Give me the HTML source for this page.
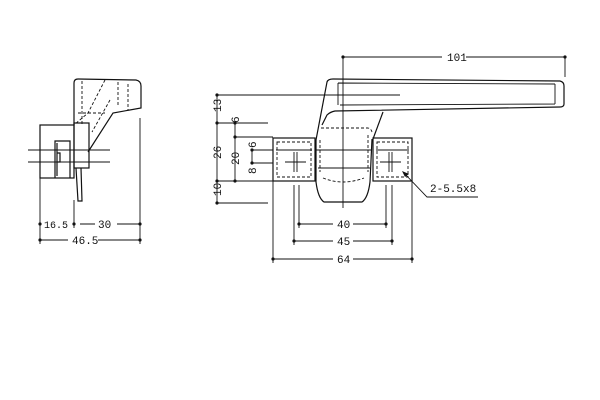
<!DOCTYPE html>
<html><head><style>body{margin:0;background:#fff}svg{display:block}text{font-family:"Liberation Mono",monospace;font-size:11px;fill:#111}</style></head><body>
<svg width="600" height="400" viewBox="0 0 600 400" xmlns="http://www.w3.org/2000/svg" fill="none" stroke="#111" stroke-width="1.2">
<!-- Left side view -->
<path d="M74,125 L74,83 Q74,79 78,79 L136,80 Q141,81 141,86 L141,108 L113,113 L88,152"/>
<path d="M105,80 L88,113 L74,125 M110,100 L92,132" stroke-dasharray="3,2" stroke-width="0.9"/>
<path d="M82,81 L82,125 M118,82 L118,105 M128,84 L128,110 M78,113 L105,113" stroke-dasharray="3,2" stroke-width="0.9"/>
<rect x="74" y="123" width="15" height="45"/>
<path d="M76,168 L78,201 L82,201 L81,168"/>
<rect x="40" y="125" width="34" height="53"/>
<path d="M55,178 L55,141 L70,141 L70,178 M57,143 L57,176 M57,153 L60,153 L60,162 L57,162"/>
<path d="M28,150 L110,150 M28,162 L110,162" stroke-width="1"/>
<path d="M40,178 L40,244 M74,200 L74,228 M140,118 L140,244" stroke-width="0.9"/>
<path d="M80,224 L95,224 M117,224 L140,224 M40,240 L68,240 M98,240 L140,240" stroke-width="0.9"/>
<g fill="#111" stroke="none"><circle cx="40" cy="224" r="1.6"/><circle cx="74" cy="224" r="1.6"/><circle cx="140" cy="224" r="1.6"/><circle cx="40" cy="240" r="1.6"/><circle cx="140" cy="240" r="1.6"/></g>
<text x="44" y="228" stroke="none" style="font-size:10px">16.5</text><text x="98" y="228" stroke="none">30</text><text x="72" y="244" stroke="none">46.5</text>

<!-- Main view: lever -->
<path d="M343,75 L343,208 M343,57 L343,75 M565,57 L565,77" stroke-width="0.9"/>
<path d="M343,57 L442,57 M466,57 L565,57" stroke-width="0.9"/>
<g fill="#111" stroke="none"><circle cx="343" cy="57" r="1.6"/><circle cx="565" cy="57" r="1.6"/></g>
<text x="447" y="61" stroke="none">101</text>
<path d="M316,140 L327,82 Q328,79 333,79 L560,81 Q564,82 564,86 L564,104 Q564,107 560,107 L335,111 Q330,112 327,115 L322,125"/>
<path d="M338,83 L555,84 M340,105 L555,104 M555,84 L555,104 M338,83 L338,105" stroke-width="0.9"/>
<path d="M383,112 L373,139"/>
<path d="M217,95 L400,95" stroke-width="0.9"/>
<!-- base plates -->
<rect x="273" y="138" width="42" height="43"/>
<rect x="373" y="138" width="39" height="43"/>
<path d="M277,142 L311,142 L311,177 L277,177 Z M377,142 L408,142 L408,177 L377,177 Z" stroke-dasharray="3,2" stroke-width="0.9"/>
<path d="M276,150 L312,150 M376,150 L409,150" stroke-width="0.9"/>
<!-- central body -->
<path d="M316,140 L316,182 Q318,198 324,202 L362,202 Q368,198 370,182 L372,139"/>
<path d="M321,128 L368,128 Q372,129 372,133 M320,140 L320,172 M368,135 L368,172 M323,178 Q343,186 364,178" stroke-dasharray="3,2" stroke-width="0.9"/>
<path d="M316,150 L372,150 M318,168 L370,168" stroke-width="0.9"/>
<!-- holes -->
<path d="M285,162 L306,162 M294,152 L294,172 M297,152 L297,172 M380,162 L401,162 M389,152 L389,172 M392,152 L392,172" stroke-width="0.9"/>
<!-- left dims -->
<path d="M217,95 L217,203 M235,123 L235,181 M252,150 L252,163" stroke-width="0.9"/>
<path d="M217,123 L268,123 M235,137 L273,137 M252,150 L273,150 M252,163 L273,163 M217,181 L273,181 M217,203 L268,203" stroke-width="0.9"/>
<g fill="#111" stroke="none"><circle cx="217" cy="95" r="1.6"/><circle cx="217" cy="123" r="1.6"/><circle cx="217" cy="181" r="1.6"/><circle cx="217" cy="203" r="1.6"/><circle cx="235" cy="123" r="1.6"/><circle cx="235" cy="137" r="1.6"/><circle cx="235" cy="181" r="1.6"/><circle cx="252" cy="150" r="1.6"/><circle cx="252" cy="163" r="1.6"/></g>
<g stroke="none">
<text transform="translate(221,112) rotate(-90)">13</text>
<text transform="translate(221,159) rotate(-90)">26</text>
<text transform="translate(221,196) rotate(-90)">10</text>
<text transform="translate(239,123) rotate(-90)">6</text>
<text transform="translate(239,165) rotate(-90)">20</text>
<text transform="translate(256,148) rotate(-90)">6</text>
<text transform="translate(256,174) rotate(-90)">8</text>
</g>
<!-- bottom dims -->
<path d="M273,181 L273,263 M412,181 L412,263 M294,185 L294,245 M392,185 L392,245 M299,185 L299,228 M386,185 L386,228" stroke-width="0.9"/>
<path d="M299,224 L333,224 M353,224 L386,224 M294,241 L333,241 M353,241 L392,241 M273,259 L333,259 M353,259 L412,259" stroke-width="0.9"/>
<g fill="#111" stroke="none"><circle cx="299" cy="224" r="1.6"/><circle cx="386" cy="224" r="1.6"/><circle cx="294" cy="241" r="1.6"/><circle cx="392" cy="241" r="1.6"/><circle cx="273" cy="259" r="1.6"/><circle cx="412" cy="259" r="1.6"/></g>
<g stroke="none"><text x="337" y="228">40</text><text x="337" y="245">45</text><text x="337" y="263">64</text></g>
<!-- leader -->
<path d="M478,197 L427,197 L404,173" stroke-width="0.9"/>
<path d="M402,171 L409,174 L405,177 Z" fill="#111" stroke="none"/>
<text x="430" y="192" stroke="none">2-5.5x8</text>
</svg>
</body></html>
